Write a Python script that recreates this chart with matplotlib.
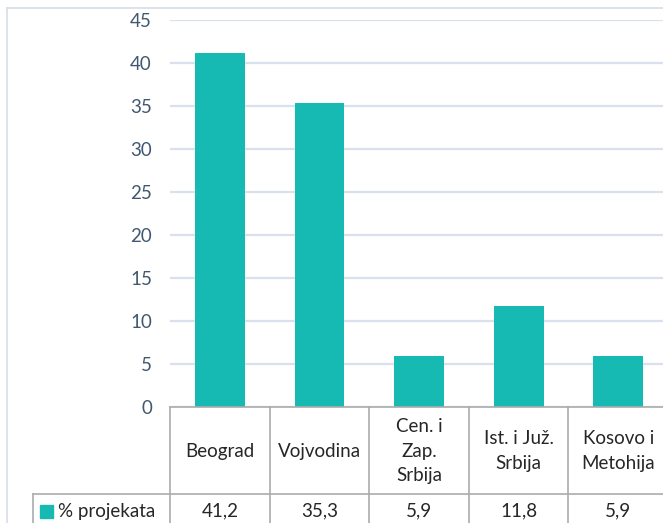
import matplotlib
matplotlib.use("Agg")
import matplotlib.pyplot as plt
from matplotlib.lines import Line2D
from matplotlib.patches import Rectangle

regions = ["Beograd", "Vojvodina", "Cen. i\nZap.\nSrbija", "Ist. i Juž.\nSrbija", "Kosovo i\nMetohija"]
shares = [41.2, 35.3, 5.9, 11.8, 5.9]
share_labels = ["41,2", "35,3", "5,9", "11,8", "5,9"]
series_name = "% projekata"
yticks = [0, 5, 10, 15, 20, 25, 30, 35, 40, 45]

bar_color = "#17BAB3"
grid_color = "#D9E2EC"
table_color = "#ABABAB"
text_color = "#262626"
tick_color = "#415870"

plt.rcParams["font.family"] = ["Lato", "DejaVu Sans"]
fs = 13.5

W, H = 663, 523
fig = plt.figure(figsize=(W / 100, H / 100), dpi=100)

# plot area runs past the right edge, as in the cropped original
x0, x1 = 170, 668
y_top, y_zero = 20, 407
ax = fig.add_axes([x0 / W, (H - y_zero) / H, (x1 - x0) / W, (y_zero - y_top) / H])

ax.bar(range(len(shares)), shares, width=0.5, color=bar_color, zorder=3)
ax.set_xlim(-0.5, len(shares) - 0.5)
ax.set_ylim(0, 45)
ax.set_yticks(yticks)
ax.set_yticklabels([str(t) for t in yticks])
ax.tick_params(axis="y", length=0, pad=13, labelsize=13.5, labelcolor=tick_color)
ax.set_xticks([])
ax.yaxis.grid(True, color=grid_color, linewidth=1.6, zorder=0)
for s in ax.spines.values():
    s.set_visible(False)

# data table under the axis
px = 1 / (y_zero - y_top)
hdr_bot = -(494 - y_zero) * px
hdr_mid = -(451 - y_zero) * px
row_mid = -(511 - y_zero) * px
bottom = -(H - y_zero + 5) * px
col_w = (x1 - x0) / len(shares)
left_edge = -0.5 + (33 - x0) / col_w

tr = ax.get_xaxis_transform()
ax.add_line(Line2D([-0.5, len(shares) - 0.5], [0, 0], transform=tr, color=table_color,
                   linewidth=1.2, clip_on=False, zorder=4))
ax.add_line(Line2D([left_edge, len(shares) - 0.5], [hdr_bot, hdr_bot], transform=tr,
                   color=table_color, linewidth=1.2, clip_on=False))
ax.add_line(Line2D([left_edge, left_edge], [hdr_bot, bottom], transform=tr,
                   color=table_color, linewidth=1.2, clip_on=False))
for i in range(len(shares)):
    ax.add_line(Line2D([i - 0.5, i - 0.5], [0, bottom], transform=tr,
                       color=table_color, linewidth=1.2, clip_on=False))
    ax.text(i, hdr_mid, regions[i], transform=tr, ha="center", va="center",
            fontsize=fs, color=text_color, linespacing=1.55)
    ax.text(i, row_mid, share_labels[i], transform=tr, ha="center", va="center",
            fontsize=fs, color=text_color)

ax.add_patch(Rectangle((left_edge + 7 / col_w, row_mid - 6.5 * px), 13 / col_w, 13 * px,
                       transform=tr, color=bar_color, clip_on=False))
ax.text(left_edge + 25 / col_w, row_mid, series_name, transform=tr, ha="left", va="center",
        fontsize=fs, color=text_color)

# chart area border (top and left visible)
fig.add_artist(Line2D([7 / W, 1], [1 - 8 / H, 1 - 8 / H], color="#D6DEE6", linewidth=1.2))
fig.add_artist(Line2D([7 / W, 7 / W], [0, 1 - 8 / H], color="#D6DEE6", linewidth=1.2))

fig.savefig("out.png", dpi=100)
